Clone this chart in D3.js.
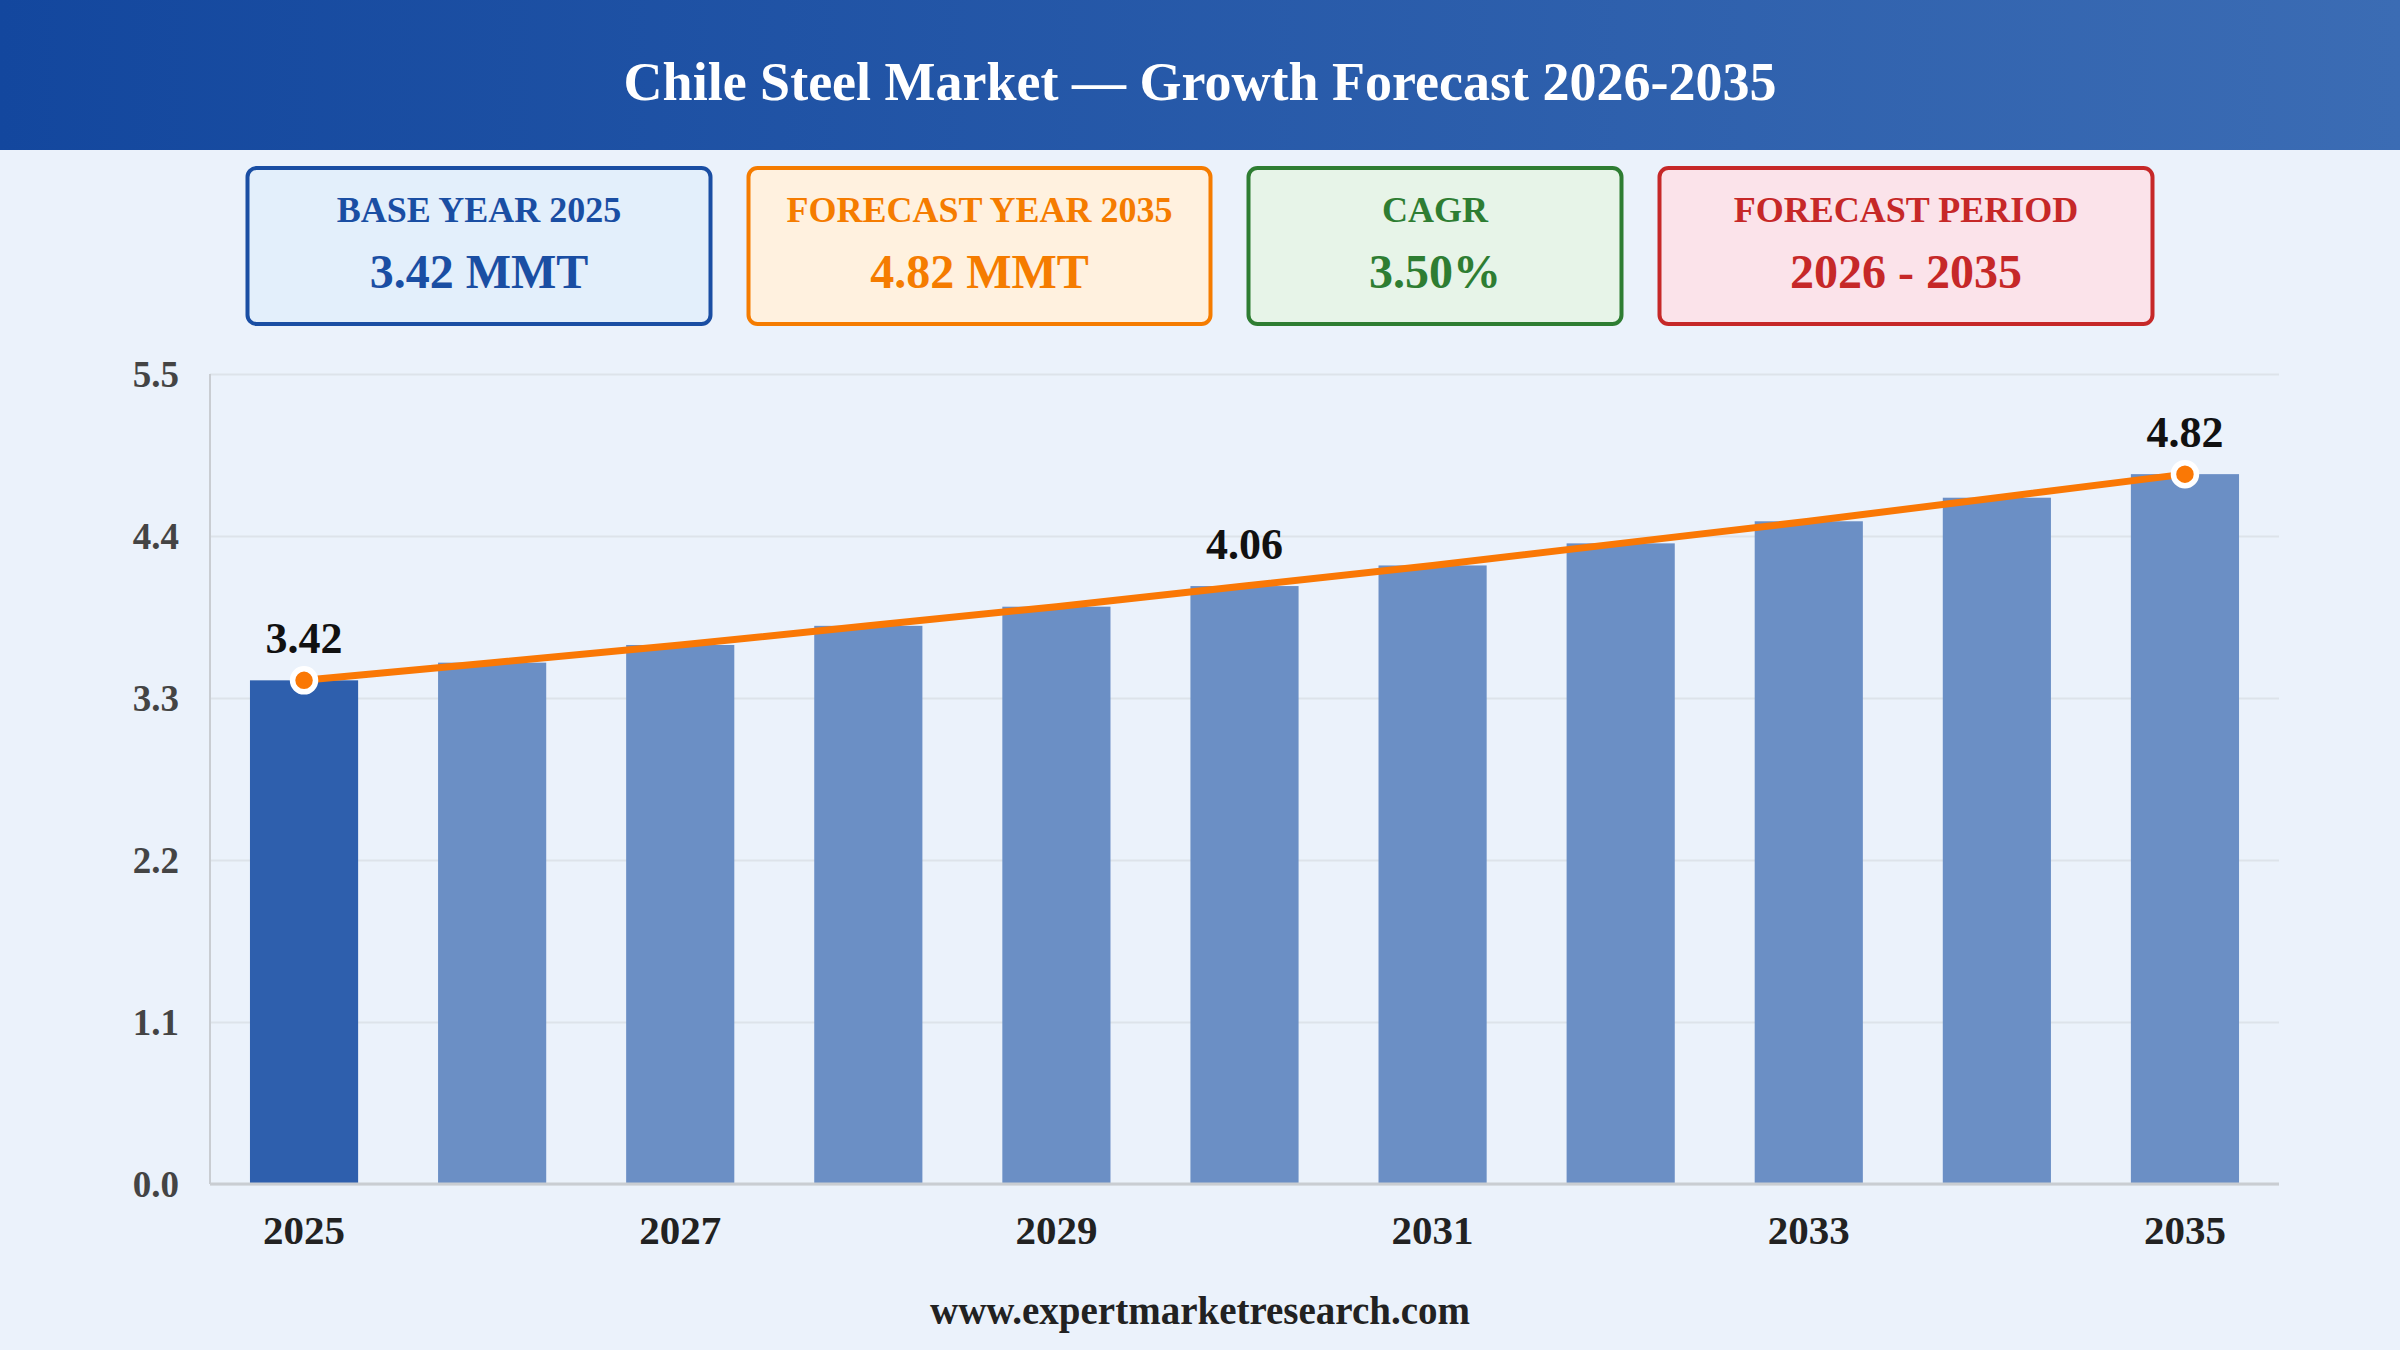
<!DOCTYPE html>
<html>
<head>
<meta charset="utf-8">
<script src="https://cdn.jsdelivr.net/npm/d3@7"></script>
<style>
  html, body { margin: 0; padding: 0; background: #ebf2fb; }
  svg { display: block; font-family: "Liberation Serif", "Times New Roman", serif; }
</style>
</head>
<body>
<div id="chart"></div>
<script>
// chart values
const years = [2025, 2026, 2027, 2028, 2029, 2030, 2031, 2032, 2033, 2034, 2035];
const volumes = [3.42, 3.54, 3.66, 3.79, 3.92, 4.06, 4.20, 4.35, 4.50, 4.66, 4.82];
const yTicks = [0, 1.1, 2.2, 3.3, 4.4, 5.5];
const xTickYears = [2025, 2027, 2029, 2031, 2033, 2035];
const labelledYears = [2025, 2030, 2035];
const dotYears = [2025, 2035];

const titleText = "Chile Steel Market \u2014 Growth Forecast 2026-2035";
const cardLabels = ["BASE YEAR 2025", "FORECAST YEAR 2035", "CAGR", "FORECAST PERIOD"];
const cardValues = ["3.42 MMT", "4.82 MMT", "3.50%", "2026 - 2035"];
const footerText = "www.expertmarketresearch.com";

// card look
const cardWidths = [467, 466, 377, 497];
const cardFills = ["#e3effb", "#fff1df", "#e7f4e8", "#fbe3ea"];
const cardColors = ["#1a4ea3", "#f57c00", "#2e7d32", "#c62828"];

const W = 2400, H = 1350;
const margin = { top: 374, right: 121, bottom: 166, left: 210 };
const width = W - margin.left - margin.right,
      height = H - margin.top - margin.bottom;

const svg = d3.select("#chart")
  .append("svg")
  .attr("width", W)
  .attr("height", H);

svg.append("rect")
  .attr("width", W).attr("height", H)
  .attr("fill", "#ebf2fb");

// header band
const grad = svg.append("defs").append("linearGradient")
  .attr("id", "hdr").attr("x1", "0%").attr("x2", "100%");
grad.append("stop").attr("offset", "0%").attr("stop-color", "#13479e");
grad.append("stop").attr("offset", "100%").attr("stop-color", "#3b6cb4");

svg.append("rect")
  .attr("width", W).attr("height", 150)
  .attr("fill", "url(#hdr)");

svg.append("text")
  .attr("x", W / 2)
  .attr("y", 100)
  .attr("text-anchor", "middle")
  .attr("fill", "#fff")
  .style("font-size", "54px")
  .style("font-weight", "bold")
  .text(titleText);

// summary cards
const gap = 34;
const totalW = d3.sum(cardWidths) + gap * (cardWidths.length - 1);
let cx = (W - totalW) / 2;
cardLabels.forEach(function (lbl, i) {
  const g = svg.append("g").attr("transform", `translate(${cx}, 166)`);
  g.append("rect")
    .attr("x", 2).attr("y", 2)
    .attr("width", cardWidths[i] - 4)
    .attr("height", 156)
    .attr("rx", 9)
    .attr("fill", cardFills[i])
    .attr("stroke", cardColors[i])
    .attr("stroke-width", 4);
  g.append("text")
    .attr("x", cardWidths[i] / 2)
    .attr("y", 56)
    .attr("text-anchor", "middle")
    .attr("fill", cardColors[i])
    .style("font-size", "36px")
    .style("font-weight", "bold")
    .text(lbl);
  g.append("text")
    .attr("x", cardWidths[i] / 2)
    .attr("y", 122)
    .attr("text-anchor", "middle")
    .attr("fill", cardColors[i])
    .style("font-size", "48px")
    .style("font-weight", "bold")
    .text(cardValues[i]);
  cx += cardWidths[i] + gap;
});

// plot
const plot = svg.append("g")
  .attr("transform", `translate(${margin.left}, ${margin.top})`);

const x = d3.scaleBand()
  .domain(years)
  .range([0, width])
  .padding(0);

const y = d3.scaleLinear()
  .domain([0, 5.5])
  .range([height, 0]);

// gridlines
plot.append("g")
  .call(d3.axisLeft(y).tickValues(yTicks).tickSize(-width).tickFormat(""))
  .call(g => g.select(".domain").remove())
  .call(g => g.selectAll("line").attr("stroke", "#dde3ea").attr("stroke-width", 2));

// y axis labels
plot.append("g")
  .call(d3.axisLeft(y).tickValues(yTicks).tickSize(0).tickFormat(d3.format(".1f")))
  .call(g => g.select(".domain").remove())
  .call(g => g.selectAll("text")
    .attr("x", -31)
    .attr("dy", "0.35em")
    .attr("fill", "#444")
    .style("font-family", "'Liberation Serif', serif")
    .style("font-size", "37px")
    .style("font-weight", "bold"));

// bars
const barW = x.bandwidth() * 0.575;
plot.append("g")
  .selectAll("rect")
  .data(years)
  .join("rect")
  .attr("x", (d) => x(d) + (x.bandwidth() - barW) / 2)
  .attr("y", (d, i) => y(volumes[i]))
  .attr("width", barW)
  .attr("height", (d, i) => height - y(volumes[i]))
  .attr("fill", (d, i) => i === 0 ? "#2e5fad" : "#6b8fc5");

// axis lines
plot.append("line")
  .attr("x1", 0).attr("x2", 0)
  .attr("y1", 0).attr("y2", height)
  .attr("stroke", "#c9cdd2").attr("stroke-width", 2);
plot.append("line")
  .attr("x1", 0).attr("x2", width)
  .attr("y1", height).attr("y2", height)
  .attr("stroke", "#c9cdd2").attr("stroke-width", 3);

// x axis labels
plot.append("g")
  .attr("transform", `translate(0, ${height})`)
  .call(d3.axisBottom(x).tickValues(xTickYears).tickSize(0))
  .call(g => g.select(".domain").remove())
  .call(g => g.selectAll("text")
    .attr("y", 60)
    .attr("dy", 0)
    .attr("fill", "#222")
    .style("font-family", "'Liberation Serif', serif")
    .style("font-size", "41px")
    .style("font-weight", "bold"));

// trend line
const cxOf = (d) => x(d) + x.bandwidth() / 2;
const line = d3.line()
  .x((d, i) => cxOf(years[i]))
  .y((d) => y(d));

plot.append("path")
  .datum(volumes)
  .attr("d", line)
  .attr("fill", "none")
  .attr("stroke", "#fa7805")
  .attr("stroke-width", 7)
  .attr("stroke-linecap", "round");

plot.append("g")
  .selectAll("circle")
  .data(dotYears)
  .join("circle")
  .attr("cx", (d) => cxOf(d))
  .attr("cy", (d) => y(volumes[years.indexOf(d)]))
  .attr("r", 11.5)
  .attr("fill", "#fa7805")
  .attr("stroke", "#fff")
  .attr("stroke-width", 5.5);

plot.append("g")
  .selectAll("text")
  .data(labelledYears)
  .join("text")
  .attr("x", (d) => cxOf(d))
  .attr("y", (d) => y(volumes[years.indexOf(d)]) - 27)
  .attr("text-anchor", "middle")
  .attr("fill", "#111")
  .style("font-size", "44px")
  .style("font-weight", "bold")
  .text((d) => volumes[years.indexOf(d)].toFixed(2));

// footer
svg.append("text")
  .attr("x", W / 2)
  .attr("y", 1324)
  .attr("text-anchor", "middle")
  .attr("fill", "#222")
  .style("font-size", "39px")
  .style("font-weight", "bold")
  .text(footerText);
</script>
</body>
</html>
